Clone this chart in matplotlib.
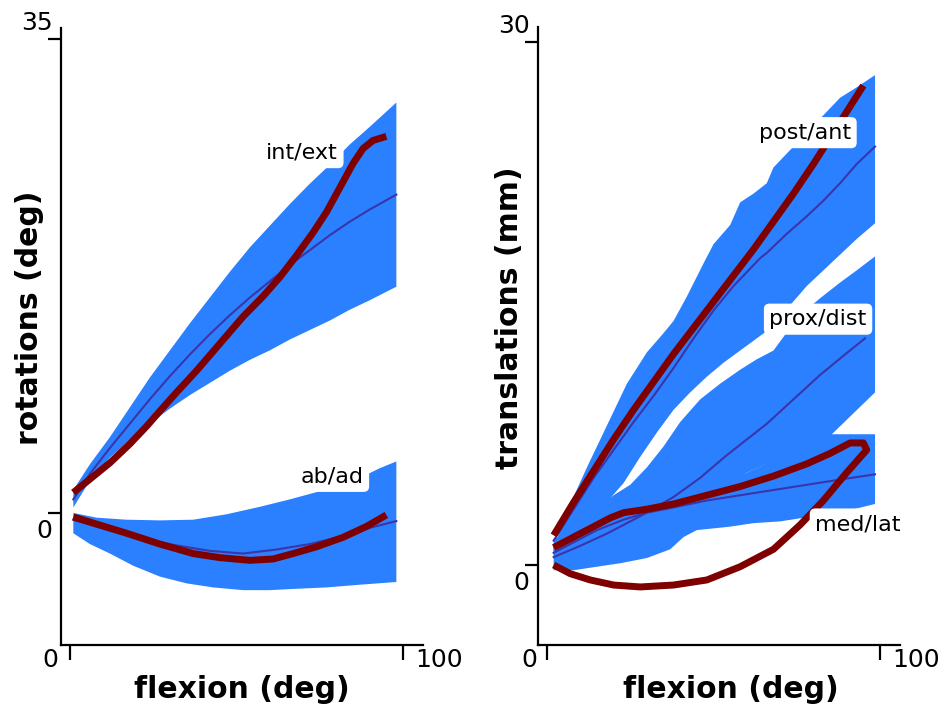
import matplotlib
matplotlib.use("Agg")
import matplotlib.pyplot as plt
import matplotlib.transforms as mtransforms

# ---- rotations panel (left) ----
ie_x = [1, 6, 12, 18, 24, 30, 36, 42, 48, 54, 60, 66, 72, 78, 84, 90, 98]
ie_upper = [1.7, 3.6, 5.6, 7.8, 10.0, 12.0, 14.0, 15.9, 17.8, 19.6, 21.2, 22.8, 24.3, 25.7, 27.2, 28.5, 30.3]
ie_lower = [0.4, 2.4, 4.1, 5.4, 6.6, 7.7, 8.7, 9.6, 10.5, 11.3, 12.0, 12.8, 13.5, 14.2, 15.0, 15.7, 16.7]
ie_mean = [1.0, 2.9, 4.8, 6.6, 8.4, 10.1, 11.7, 13.2, 14.6, 15.9, 17.1, 18.3, 19.4, 20.5, 21.5, 22.4, 23.5]
ie_subj_x = [1, 6, 12, 18, 23, 28, 32, 38, 45, 52, 58, 63, 68, 73, 77, 81, 85, 88, 91, 95]
ie_subj = [1.5, 2.5, 3.7, 5.1, 6.4, 7.8, 8.9, 10.5, 12.5, 14.5, 16.0, 17.4, 19.0, 20.7, 22.2, 24.0, 25.8, 26.9, 27.5, 27.8]

aa_upper_x = [1, 8, 17, 27, 37, 47, 57, 66, 75, 82, 88, 93, 98]
aa_upper = [0.0, -0.35, -0.5, -0.55, -0.5, -0.1, 0.45, 1.0, 1.6, 2.1, 2.7, 3.3, 3.8]
aa_lower_x = [1, 6, 12, 19, 27, 35, 43, 52, 60, 68, 77, 87, 98]
aa_lower = [-1.5, -2.3, -3.0, -3.9, -4.7, -5.2, -5.5, -5.7, -5.7, -5.6, -5.5, -5.3, -5.1]
aa_mean_x = [1, 12, 22, 32, 42, 52, 62, 72, 82, 90, 98]
aa_mean = [-0.5, -1.3, -1.9, -2.4, -2.8, -3.0, -2.7, -2.3, -1.7, -1.1, -0.6]
aa_subj_x = [1, 9, 17, 27, 37, 45, 54, 61, 67, 74, 82, 89, 95]
aa_subj = [-0.3, -0.9, -1.5, -2.3, -3.0, -3.3, -3.5, -3.4, -3.0, -2.5, -1.8, -1.0, -0.15]

# ---- translations panel (right) ----
pa_upper_x = [2, 7, 12, 18, 24, 30, 35, 38, 42, 47, 50, 55, 58, 62, 66, 68, 73, 78, 83, 88, 93, 98.5]
pa_upper = [1.0, 3.5, 5.6, 8.0, 10.4, 12.2, 13.3, 14.0, 15.4, 17.3, 18.4, 19.5, 20.8, 21.3, 21.9, 22.8, 23.8, 24.8, 25.8, 26.8, 27.4, 28.1]
pa_lower_x = [2, 12, 23, 28, 33, 38, 43, 48, 53, 58, 63, 68, 73, 78, 83, 88, 93, 98.5]
pa_lower = [0.5, 2.3, 4.7, 6.2, 7.6, 8.9, 9.9, 10.8, 11.6, 12.3, 13.0, 13.7, 14.9, 16.0, 16.9, 17.8, 18.7, 19.6]
pa_mean_x = [2, 8, 14, 20, 26, 32, 38, 44, 50, 56, 61, 64, 66, 72, 78, 83, 88, 93, 98.5]
pa_mean = [1.4, 3.2, 5.0, 6.6, 8.2, 9.7, 11.3, 13.0, 14.6, 16.0, 17.0, 17.6, 17.9, 19.0, 20.0, 20.9, 21.9, 23.0, 24.0]
pa_subj_x = [2, 8, 14, 20, 26, 32, 38, 44, 50, 56, 62, 68, 74, 80, 86, 91, 95]
pa_subj = [1.7, 3.6, 5.4, 7.2, 8.9, 10.5, 12.1, 13.6, 15.1, 16.6, 18.1, 19.7, 21.3, 23.0, 24.8, 26.3, 27.5]

pd_upper_x = [2, 10, 20, 25, 30, 35, 40, 46, 52, 58, 63, 68, 73, 77, 82, 88, 93, 98.5]
pd_upper = [1.2, 2.5, 4.0, 4.6, 5.6, 6.8, 8.2, 9.5, 10.4, 11.2, 11.8, 12.3, 13.6, 14.5, 15.3, 16.2, 16.9, 17.7]
pd_lower_x = [2, 20, 40, 60, 85, 98.5]
pd_lower = [0.8, 2.5, 3.8, 5.3, 7.4, 9.9]
pd_mean_x = [2, 10, 18, 28, 38, 46, 54, 60, 66, 74, 82, 89, 95.5]
pd_mean = [0.45, 1.1, 1.8, 2.8, 3.9, 5.0, 6.3, 7.2, 8.1, 9.5, 10.9, 12.0, 13.0]

ml_upper_x = [2, 20, 40, 60, 85, 98.5]
ml_upper = [1.5, 3.0, 4.2, 5.3, 7.5, 7.5]
ml_lower_x = [2, 8, 15, 22, 30, 37, 41, 45, 55, 62, 70, 80, 90, 98.5]
ml_lower = [-0.3, -0.3, -0.1, 0.1, 0.4, 0.9, 1.6, 2.0, 2.2, 2.4, 2.5, 2.8, 3.1, 3.5]
ml_mean_x = [2, 8, 15, 23, 30, 38, 48, 58, 68, 78, 88, 98.5]
ml_mean = [0.7, 1.3, 2.0, 2.6, 3.0, 3.3, 3.7, 4.0, 4.3, 4.6, 4.9, 5.2]
# flexion then extension, so the curve loops back
ml_subj_x = [2, 8, 14, 19, 23, 30, 38, 48, 58, 68, 78, 85, 91, 95,
             96, 90, 83, 76, 68, 58, 48, 38, 28, 20, 13, 7, 2]
ml_subj = [1.0, 1.6, 2.2, 2.7, 3.0, 3.2, 3.5, 4.0, 4.5, 5.1, 5.8, 6.4, 7.0, 7.0,
           6.6, 5.3, 3.7, 2.3, 0.9, -0.1, -0.86, -1.15, -1.26, -1.15, -0.86, -0.5, 0.0]

band_color = "#2b80ff"
subj_color = "#7f0000"
mean_color = "#3b35a8"


def band(ax, ux, uy, lx, ly):
    xs = list(ux) + list(lx)[::-1]
    ys = list(uy) + list(ly)[::-1]
    ax.fill(xs, ys, color=band_color, lw=0, zorder=1)


def label(ax, x, y, s):
    ax.text(x, y, s, fontsize=16, ha="center", va="center", zorder=5,
            bbox=dict(boxstyle="round,pad=0.25", fc="white", ec="none"))


def shift(lbl, dx, dy):
    fig = lbl.figure
    lbl.set_transform(lbl.get_transform() + mtransforms.ScaledTranslation(dx / 100, dy / 100, fig.dpi_scale_trans))


def style(ax, ylim, ytop, xlab_shift):
    ax.set_xlim(-2.7, 106)
    ax.set_ylim(*ylim)
    for s in ["top", "right"]:
        ax.spines[s].set_visible(False)
    for s in ["left", "bottom"]:
        ax.spines[s].set_linewidth(1.6)
    ax.set_xticks([0, 100], ["0", "100"])
    ax.set_yticks([0, ytop], ["0", str(ytop)])
    ax.tick_params(axis="x", length=11, width=1.6, pad=0, labelsize=18)
    ax.tick_params(axis="y", length=9.5, width=1.6, pad=-3.5, labelsize=18)
    xl = ax.get_xticklabels()
    xl[0].set_ha("right")
    xl[0].set_va("center")
    shift(xl[0], -xlab_shift[0], 0)
    xl[1].set_ha("left")
    xl[1].set_va("center")
    shift(xl[1], xlab_shift[1], 0)
    yl = ax.get_yticklabels()
    yl[0].set_va("top")
    shift(yl[0], 0, -6)
    yl[1].set_va("bottom")
    shift(yl[1], 0, 4)


fig = plt.figure(figsize=(9.48, 7.09), dpi=100)
ax1 = fig.add_axes([61 / 948, 64 / 709, 362 / 948, 617 / 709])
ax2 = fig.add_axes([538 / 948, 64 / 709, 362 / 948, 618 / 709])

# left
band(ax1, ie_x, ie_upper, ie_x, ie_lower)
band(ax1, aa_upper_x, aa_upper, aa_lower_x, aa_lower)
ax1.plot(ie_x, ie_mean, color=mean_color, lw=1.5, zorder=2)
ax1.plot(aa_mean_x, aa_mean, color=mean_color, lw=1.5, zorder=2)
ax1.plot(ie_subj_x, ie_subj, color=subj_color, lw=5, zorder=3, solid_capstyle="butt")
ax1.plot(aa_subj_x, aa_subj, color=subj_color, lw=5, zorder=3, solid_capstyle="butt")
label(ax1, 69.7, 26.6, "int/ext")
label(ax1, 78.7, 2.7, "ab/ad")
style(ax1, (-9.75, 35.8), 35, (12, 12))
ax1.set_xlabel("flexion (deg)", fontsize=21.5, fontweight="bold")
ax1.set_ylabel("rotations (deg)", fontsize=21.5, fontweight="bold")
ax1.xaxis.set_label_coords(0.50, -0.049)
ax1.yaxis.set_label_coords(-0.047, 0.53)

# right
band(ax2, pa_upper_x, pa_upper, pa_lower_x, pa_lower)
band(ax2, pd_upper_x, pd_upper, pd_lower_x, pd_lower)
band(ax2, ml_upper_x, ml_upper, ml_lower_x, ml_lower)
ax2.plot(pa_mean_x, pa_mean, color=mean_color, lw=1.5, zorder=2)
ax2.plot(pd_mean_x, pd_mean, color=mean_color, lw=1.5, zorder=2)
ax2.plot(ml_mean_x, ml_mean, color=mean_color, lw=1.5, zorder=2)
ax2.plot(pa_subj_x, pa_subj, color=subj_color, lw=5, zorder=3, solid_capstyle="butt")
ax2.plot(ml_subj_x, ml_subj, color=subj_color, lw=5, zorder=3, solid_capstyle="butt")
label(ax2, 77.5, 24.8, "post/ant")
label(ax2, 81.4, 14.1, "prox/dist")
label(ax2, 93.4, 2.35, "med/lat")
style(ax2, (-4.59, 30.86), 30, (10, 12))
ax2.set_xlabel("flexion (deg)", fontsize=21.5, fontweight="bold")
ax2.set_ylabel("translations (mm)", fontsize=21.5, fontweight="bold")
ax2.xaxis.set_label_coords(0.533, -0.049)
ax2.yaxis.set_label_coords(-0.039, 0.530)

fig.savefig("out.png", dpi=100)
